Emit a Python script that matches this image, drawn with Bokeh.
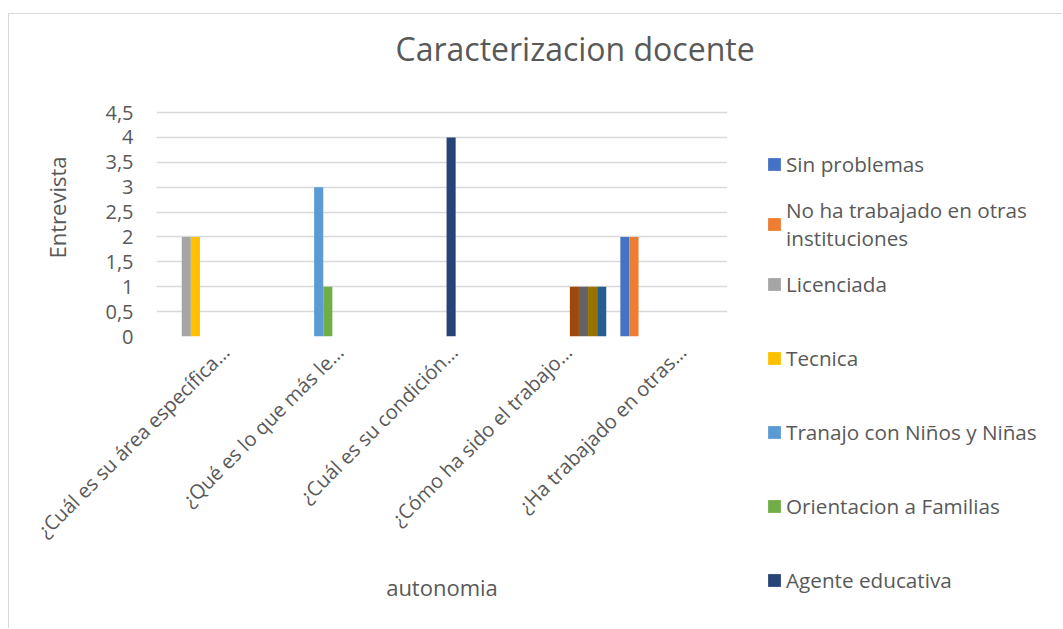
import math
from bokeh.plotting import figure
from bokeh.layouts import row, column
from bokeh.models import (Range1d, FixedTicker, Legend, LegendItem,
                          Title, ColumnDataSource, CustomJSTickFormatter, LinearAxis)
from bokeh.transform import dodge
from bokeh.embed import file_html
from bokeh.resources import INLINE

# ---------------- data ----------------
categories = [
    "¿Cuál es su área específica…",
    "¿Qué es lo que más le…",
    "¿Cuál es su condición…",
    "¿Cómo ha sido el trabajo…",
    "¿Ha trabajado en otras…",
]

series_names = [
    "Sin problemas",
    "No ha trabajado en otras\ninstituciones",
    "Licenciada",
    "Tecnica",
    "Tranajo con Niños y Niñas",
    "Orientacion a Familias",
    "Agente educativa",
    "Serie 8",
    "Serie 9",
    "Serie 10",
    "Serie 11",
]

sin_problemas      = [0, 0, 0, 0, 2]
no_ha_trabajado    = [0, 0, 0, 0, 2]
licenciada         = [2, 0, 0, 0, 0]
tecnica            = [2, 0, 0, 0, 0]
tranajo_ninos      = [0, 3, 0, 0, 0]
orientacion        = [0, 1, 0, 0, 0]
agente_educativa   = [0, 0, 4, 0, 0]
serie_8            = [0, 0, 0, 1, 0]
serie_9            = [0, 0, 0, 1, 0]
serie_10           = [0, 0, 0, 1, 0]
serie_11           = [0, 0, 0, 1, 0]

series_values = [sin_problemas, no_ha_trabajado, licenciada, tecnica, tranajo_ninos,
                 orientacion, agente_educativa, serie_8, serie_9, serie_10, serie_11]

y_ticks = [0, 0.5, 1, 1.5, 2, 2.5, 3, 3.5, 4, 4.5]

colors = ["#4472C4", "#ED7D31", "#A5A5A5", "#FFC000", "#5B9BD5", "#70AD47",
          "#264478", "#9E480E", "#636363", "#997300", "#255E91"]

n_legend = 7  # only the first seven entries are visible in the legend

# ---------------- styling ----------------
FONT = "Open Sans"
TXT = "#595959"
GRID = "#D9D9D9"

# ---------------- main chart ----------------
n_cat = len(categories)
y_max = y_ticks[-1]
frame_h = 261            # frame reaches above the top gridline to leave room for the title
grid_h = 224             # height of the 0 .. 4.5 band
p = figure(x_range=Range1d(0, n_cat), y_range=Range1d(0, y_max * frame_h / grid_h),
           frame_width=571, frame_height=frame_h,
           min_border_left=147, min_border_top=61, min_border_right=35, min_border_bottom=292,
           output_backend="svg", toolbar_location=None)
p.outline_line_color = None

data = {"cat": categories, "xpos": [j + 0.5 for j in range(n_cat)]}
for i, vals in enumerate(series_values):
    data[f"s{i}"] = vals
src = ColumnDataSource(data)

bar_w = 0.0797
for i in range(len(series_values)):
    p.vbar(x=dodge("xpos", (i - 5) * bar_w, range=p.x_range), top=f"s{i}",
           width=bar_w, source=src, fill_color=colors[i], line_color=None)

p.xgrid.visible = False
p.xaxis.visible = False
p.ygrid.grid_line_color = GRID
p.ygrid.grid_line_width = 1.5
p.ygrid.ticker = FixedTicker(ticks=y_ticks)
p.yaxis.ticker = FixedTicker(ticks=y_ticks)
p.yaxis.formatter = CustomJSTickFormatter(code="return tick.toString().replace('.', ',');")
p.yaxis.axis_line_color = None

# category label axis, nudged to sit like the original's rotated labels
label_shift = 0.105
p.extra_x_ranges = {"labels": Range1d(-label_shift, n_cat - label_shift)}
lab_axis = LinearAxis(x_range_name="labels",
                      ticker=FixedTicker(ticks=[j + 0.5 for j in range(n_cat)]),
                      major_label_overrides={j + 0.5: c for j, c in enumerate(categories)})
p.add_layout(lab_axis, "below")
lab_axis.axis_line_color = None
lab_axis.major_label_orientation = math.pi / 4
lab_axis.major_label_standoff = 12
lab_axis.axis_label = "autonomia"
lab_axis.axis_label_text_font = FONT
lab_axis.axis_label_text_font_size = "22px"
lab_axis.axis_label_text_font_style = "normal"
lab_axis.axis_label_text_color = TXT
lab_axis.axis_label_standoff = 16

for ax in (lab_axis, p.yaxis[0]):
    ax.major_tick_line_color = None
    ax.minor_tick_line_color = None
    ax.major_tick_out = 0
    ax.major_tick_in = 0
    ax.major_label_text_font = FONT
    ax.major_label_text_color = TXT
    ax.major_label_text_font_size = "20px"
p.yaxis.major_label_standoff = 23

# chart title
p.title.text = "Caracterizacion docente"
p.title.align = "left"
p.title.offset = 239
p.title.standoff = 12
p.title.vertical_align = "bottom"
p.title.text_font = FONT
p.title.text_font_size = "32px"
p.title.text_font_style = "normal"
p.title.text_color = TXT

# value-axis title
p.add_layout(Title(text="Entrevista", align="left", offset=78, vertical_align="middle",
                   standoff=60, text_font=FONT, text_font_size="22px",
                   text_font_style="normal", text_color=TXT), "left")

# ---------------- legend strip ----------------
leg_fig = figure(width=300, height=614, x_range=Range1d(0, 1), y_range=Range1d(0, 1),
                 x_axis_type=None, y_axis_type=None, min_border=0,
                 output_backend="svg", toolbar_location=None)
leg_fig.outline_line_color = None
# zero-size swatch glyphs: they only feed the legend
leg_renderers = [leg_fig.quad(left=[0.5], right=[0.5], bottom=[0], top=[0],
                              fill_color=colors[i], line_color=None)
                 for i in range(n_legend)]

legend_centers = [165, 225, 285, 359, 433, 507, 581]   # page y of each entry centre
strip_bottom = 628.5
for i in range(n_legend):
    lines = series_names[i].count("\n") + 1
    h = 27 * lines
    leg = Legend(items=[LegendItem(label=series_names[i], renderers=[leg_renderers[i]])],
                 location=(4, strip_bottom - legend_centers[i] - h / 2),
                 padding=0, margin=0, border_line_color=None, background_fill_alpha=0,
                 glyph_width=16, glyph_height=16, label_standoff=4, label_height=20,
                 label_text_font=FONT, label_text_font_size="20.7px", label_text_color=TXT)
    leg_fig.add_layout(leg, "center")

# wrapping the chart in its own column keeps the two plots' frames independent
layout = row(column(p), leg_fig)
layout.styles = {"border-left": "1.5px solid #D9D9D9", "border-top": "1.5px solid #D9D9D9",
                 "margin-left": "8px", "margin-top": "13px"}

open("out.html", "w").write(file_html(layout, INLINE))
